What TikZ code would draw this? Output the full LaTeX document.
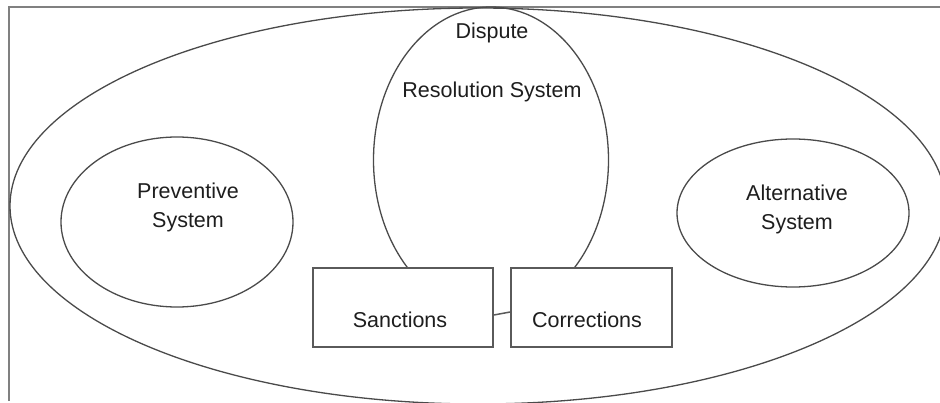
\documentclass[tikz,border=0pt]{standalone}
\usepackage{fontspec}
\setmainfont{Liberation Sans}
\usetikzlibrary{shapes.geometric,calc}
\definecolor{inkline}{HTML}{4A4A4A}
\definecolor{frameline}{HTML}{808080}
\definecolor{boxline}{HTML}{5A5A5A}
\definecolor{inktext}{HTML}{1E1E1E}
\tikzset{
  oval/.style={draw=inkline, line width=1.3pt, ellipse, inner sep=0pt},
  panel/.style={draw=boxline, line width=1.7pt, rectangle, inner sep=0pt},
  caption/.style={text=inktext, font=\fontsize{21.5}{29}\selectfont, align=center, inner sep=0pt},
  rule/.style={draw=frameline, line width=2.6pt},
  link/.style={draw=boxline, line width=1.5pt}
}
\begin{document}
\begin{tikzpicture}[x=1pt,y=-1pt]
  \clip (0,0) rectangle (940,403);
  \fill[white] (0,0) rectangle (940,403);

  % frame edges along the top and left
  \coordinate (tl) at (9,7);
  \coordinate (tr) at (942,7);
  \coordinate (bl) at (9,401);
  \draw[rule] (bl) -- (tl) -- (tr);

  % outer system boundary
  \node[oval, minimum width=936pt, minimum height=396pt] (outer) at (478,206) {};

  % preventive and alternative systems
  \node[oval, minimum width=232pt, minimum height=170pt] (prev) at (177,222) {};
  \node[caption] (prevtxt) at (188,207.5) {Preventive\\System};
  \node[oval, minimum width=232pt, minimum height=148pt] (alt) at (793,213) {};
  \node[caption] (alttxt) at (797,209) {Alternative\\System};

  % dispute resolution system, its lower part hidden behind the boxes
  \begin{scope}
    \clip (0,0) rectangle (940,268);
    \node[oval, minimum width=235pt, minimum height=306pt] (dispute) at (491,160) {};
  \end{scope}
  \node[caption] (disptop) at (492,33) {Dispute};
  \node[caption] (dispbot) at (492,92) {Resolution System};

  % sanctions and corrections
  \node[panel, minimum width=180pt, minimum height=79pt] (sanc) at (403,307.5) {};
  \node[caption] (sanctxt) at (400,320) {Sanctions};
  \node[panel, minimum width=161pt, minimum height=79pt] (corr) at (591.5,307.5) {};
  \node[caption] (corrtxt) at (587,320) {Corrections};
  \draw[link] ($(sanc.east)+(0,7.5)$) -- ($(corr.west)+(0,4.5)$);
\end{tikzpicture}
\end{document}
